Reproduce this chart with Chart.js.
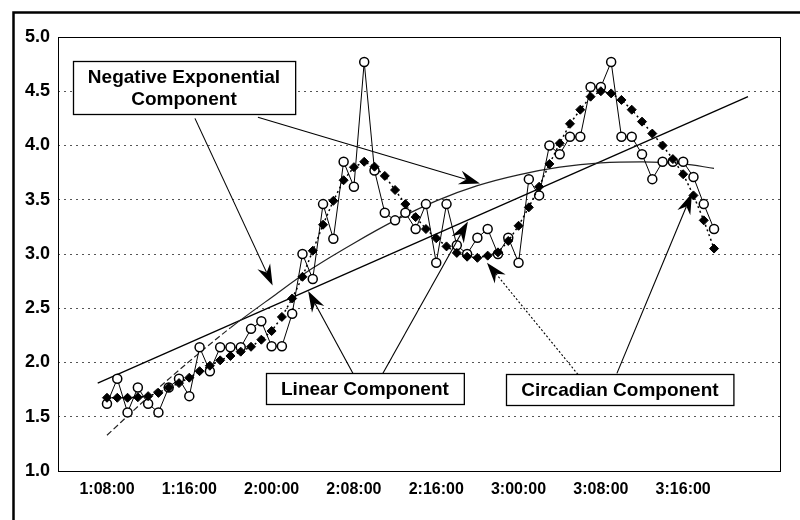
<!DOCTYPE html>
<html>
<head>
<meta charset="utf-8">
<script src="https://cdn.jsdelivr.net/npm/chart.js@4.4.0/dist/chart.umd.min.js"></script>
<style>
  html, body { margin: 0; padding: 0; background: #fff; }
  #wrap { width: 800px; height: 520px; }
</style>
</head>
<body>
<div id="wrap"><canvas id="chart" width="800" height="520"></canvas></div>
<script>
// hourly samples, x = hours since 1:08:00 (day:hour:min)
var tickHours = [0, 8, 16, 24, 32, 40, 48, 56];
var tickLabels = ['1:08:00', '1:16:00', '2:00:00', '2:08:00', '2:16:00', '3:00:00', '3:08:00', '3:16:00'];

var observed = [
    1.62, 1.85, 1.54, 1.77, 1.62, 1.54, 1.77, 1.85, 1.69, 2.14,
    1.92, 2.14, 2.14, 2.14, 2.31, 2.38, 2.15, 2.15, 2.45, 3.00,
    2.77, 3.46, 3.14, 3.85, 3.62, 4.77, 3.77, 3.38, 3.31, 3.38,
    3.23, 3.46, 2.92, 3.46, 3.08, 3.00, 3.15, 3.23, 3.00, 3.15,
    2.92, 3.69, 3.54, 4.00, 3.92, 4.08, 4.08, 4.54, 4.54, 4.77,
    4.08, 4.08, 3.92, 3.69, 3.85, 3.85, 3.85, 3.71, 3.46, 3.23
];

var circadian = [
    1.675, 1.675, 1.675, 1.68, 1.69, 1.72, 1.77, 1.81, 1.86, 1.92,
    1.97, 2.02, 2.06, 2.10, 2.145, 2.21, 2.29, 2.42, 2.59, 2.79,
    3.03, 3.27, 3.49, 3.68, 3.80, 3.85, 3.805, 3.72, 3.59, 3.46,
    3.34, 3.23, 3.145, 3.07, 3.01, 2.975, 2.965, 2.985, 3.015, 3.12,
    3.26, 3.43, 3.62, 3.83, 4.02, 4.20, 4.33, 4.45, 4.50, 4.48,
    4.42, 4.33, 4.22, 4.11, 4.00, 3.875, 3.735, 3.54, 3.31, 3.05
];

var expHours = [0, 4, 8, 12, 16, 20, 24, 28, 32, 36, 40, 44, 48, 52, 56, 59];
var expValues = [1.33, 1.68, 2.01, 2.32, 2.60, 2.87, 3.10, 3.31, 3.49, 3.63, 3.73, 3.80, 3.84, 3.85, 3.83, 3.79];

var linearHours = [-0.9, 62.3];
var linearValues = [1.81, 4.45];

// callouts and arrows in data units (hour, value)
var callouts = [
    { lines: ['Negative Exponential', 'Component'], x: 7.48, y: 4.53 },
    { lines: ['Linear Component'], x: 25.07, y: 1.76 },
    { lines: ['Circadian Component'], x: 49.85, y: 1.75 }
];
var arrows = [
    { from: [8.55, 4.25], to: [16.1, 2.71] },
    { from: [14.67, 4.26], to: [36.25, 3.65] },
    { from: [23.9, 1.90], to: [19.55, 2.66] },
    { from: [26.82, 1.90], to: [35.08, 3.30] },
    { from: [45.77, 1.89], to: [36.93, 2.92], dotted: true },
    { from: [49.56, 1.90], to: [56.85, 3.56] }
];

function toPoints(xs, ys) {
    return ys.map(function (v, i) { return { x: xs ? xs[i] : i, y: v }; });
}

var FONT = "'Liberation Sans', Arial, sans-serif";

function drawArrow(ctx, x1, y1, x2, y2, dotted) {
    var ang = Math.atan2(y2 - y1, x2 - x1);
    var len = 21, half = 7;
    ctx.save();
    ctx.strokeStyle = '#000';
    ctx.fillStyle = '#000';
    ctx.lineWidth = 1.1;
    ctx.setLineDash(dotted ? [2, 2] : []);
    ctx.beginPath();
    ctx.moveTo(x1, y1);
    ctx.lineTo(x2 - Math.cos(ang) * len * 0.7, y2 - Math.sin(ang) * len * 0.7);
    ctx.stroke();
    ctx.setLineDash([]);
    ctx.translate(x2, y2);
    ctx.rotate(ang);
    ctx.beginPath();
    ctx.moveTo(0, 0);
    ctx.lineTo(-len, -half);
    ctx.lineTo(-len * 0.68, 0);
    ctx.lineTo(-len, half);
    ctx.closePath();
    ctx.fill();
    ctx.restore();
}

var overlay = {
    id: 'overlay',
    afterDraw: function (chart) {
        var ctx = chart.ctx;
        var a = chart.chartArea;
        var sx = chart.scales.x, sy = chart.scales.y;

        ctx.save();
        // plot area border
        ctx.strokeStyle = '#000';
        ctx.lineWidth = 1;
        ctx.strokeRect(a.left + 0.5, a.top + 0.5, a.right - a.left, a.bottom - a.top);

        arrows.forEach(function (ar) {
            drawArrow(ctx,
                sx.getPixelForValue(ar.from[0]), sy.getPixelForValue(ar.from[1]),
                sx.getPixelForValue(ar.to[0]), sy.getPixelForValue(ar.to[1]),
                ar.dotted);
        });

        ctx.font = 'bold 19px ' + FONT;
        ctx.textAlign = 'center';
        ctx.textBaseline = 'middle';
        callouts.forEach(function (c) {
            var cx = sx.getPixelForValue(c.x), cy = sy.getPixelForValue(c.y);
            var w = Math.max.apply(null, c.lines.map(function (t) { return ctx.measureText(t).width; })) + 30;
            var lh = 22;
            var h = c.lines.length * lh + 9;
            var x0 = Math.round(cx - w / 2) + 0.5, y0 = Math.round(cy - h / 2) + 0.5;
            ctx.fillStyle = '#fff';
            ctx.fillRect(x0, y0, w, h);
            ctx.strokeStyle = '#000';
            ctx.lineWidth = 1.3;
            ctx.strokeRect(x0, y0, w, h);
            ctx.fillStyle = '#000';
            c.lines.forEach(function (t, i) {
                ctx.fillText(t, cx, cy + (i - (c.lines.length - 1) / 2) * lh + 1);
            });
        });

        // outer frame
        ctx.lineWidth = 2.5;
        ctx.beginPath();
        ctx.moveTo(13.5, 520);
        ctx.lineTo(13.5, 12.5);
        ctx.lineTo(800, 12.5);
        ctx.stroke();
        ctx.restore();
    }
};

new Chart(document.getElementById('chart'), {
    type: 'line',
    data: {
        datasets: [{
            label: 'Circadian',
            data: toPoints(null, circadian),
            borderColor: '#000',
            borderWidth: 1.5,
            borderDash: [2, 3],
            pointStyle: 'rectRot',
            pointRadius: 4.5,
            pointBackgroundColor: '#000',
            pointBorderColor: '#000',
            pointBorderWidth: 1,
            tension: 0
        }, {
            label: 'Observed',
            data: toPoints(null, observed),
            borderColor: '#000',
            borderWidth: 1,
            pointStyle: 'circle',
            pointRadius: 4.5,
            pointBackgroundColor: '#fff',
            pointBorderColor: '#000',
            pointBorderWidth: 1.5,
            tension: 0
        }, {
            label: 'Negative Exponential',
            data: toPoints(expHours, expValues),
            borderColor: '#222',
            borderWidth: 1.2,
            pointRadius: 0,
            cubicInterpolationMode: 'monotone',
            segment: {
                borderDash: function (c) { return c.p0.parsed.x < 12 ? [6, 3] : undefined; }
            }
        }, {
            label: 'Linear',
            data: toPoints(linearHours, linearValues),
            borderColor: '#000',
            borderWidth: 1.3,
            pointRadius: 0
        }]
    },
    options: {
        responsive: false,
        animation: false,
        devicePixelRatio: 1,
        layout: { padding: { left: 0, top: 37, right: 20, bottom: 0 } },
        plugins: { legend: { display: false }, tooltip: { enabled: false } },
        scales: {
            x: {
                type: 'linear',
                min: -4.76,
                max: 65.41,
                afterFit: function (s) { s.height = 49; },
                afterBuildTicks: function (s) {
                    s.ticks = tickHours.map(function (h) { return { value: h }; });
                },
                grid: { display: false, drawTicks: false },
                border: { display: false },
                ticks: {
                    autoSkip: false,
                    maxRotation: 0,
                    padding: 9,
                    color: '#000',
                    font: { family: FONT, size: 16, weight: 'bold' },
                    callback: function (v) {
                        var i = tickHours.indexOf(v);
                        return i >= 0 ? tickLabels[i] : '';
                    }
                }
            },
            y: {
                min: 1,
                max: 5,
                afterFit: function (s) { s.width = 58; },
                grid: { color: '#555', lineWidth: 1, drawTicks: false },
                border: { display: false, dash: [2, 4] },
                ticks: {
                    stepSize: 0.5,
                    padding: 8,
                    color: '#000',
                    font: { family: FONT, size: 18, weight: 'bold' },
                    callback: function (v) { return v.toFixed(1); }
                }
            }
        }
    },
    plugins: [overlay]
});
</script>
</body>
</html>
